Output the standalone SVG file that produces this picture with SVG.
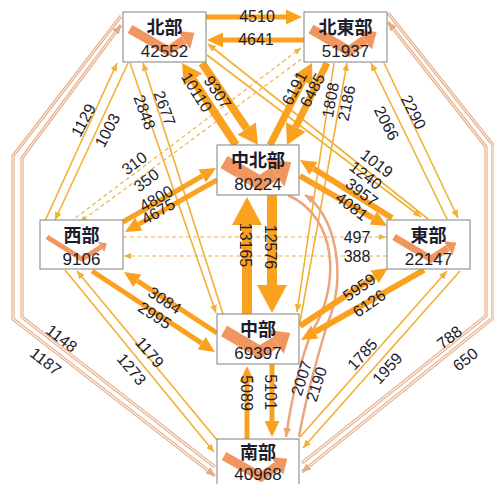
<svg xmlns="http://www.w3.org/2000/svg" width="494" height="484" viewBox="0 0 494 484">
<defs>
<style>
.t{stroke:#FAA21F;fill:none}
.g{stroke:#F2B134;stroke-width:1.6;fill:none;marker-end:url(#mG)}
.d{stroke:#E9B547;stroke-width:1.2;stroke-dasharray:4 3;fill:none;marker-end:url(#mD)}
.tan{stroke:#E5AA84;stroke-width:3.2;fill:none;stroke-linejoin:round}
.tanin{stroke:#FFF4EA;stroke-width:1.1;fill:none;stroke-linejoin:round}
.tanm{stroke:none;fill:none;marker-end:url(#mT)}
.cv{stroke:#EBA47C;stroke-width:2.5;fill:none;marker-end:url(#mR)}
.lb{font-family:"Liberation Sans",Arial,sans-serif;font-size:16px;fill:#1c1c2c;text-anchor:middle}
.box{fill:#fff;stroke:#808080;stroke-width:1}
.nm{font-family:"Noto Sans CJK JP","Noto Sans CJK SC",sans-serif;font-size:18px;font-weight:bold;fill:#1c1c2c;text-anchor:middle}
.nv{font-family:"Liberation Sans",Arial,sans-serif;font-size:17px;fill:#1c1c2c;text-anchor:middle}
.ch{stroke:#EE8442;fill:none;stroke-linejoin:miter;marker-end:url(#mC)}
</style>
<marker id="mB" markerUnits="userSpaceOnUse" markerWidth="28" markerHeight="30" refX="0" refY="15" orient="auto" viewBox="0 0 28 30"><path d="M0,0L28,15L0,30z" fill="#FAA21F"/></marker>
<marker id="mM" markerUnits="userSpaceOnUse" markerWidth="20" markerHeight="22" refX="0" refY="11" orient="auto" viewBox="0 0 20 22"><path d="M0,0L20,11L0,22z" fill="#FAA21F"/></marker>
<marker id="mS" markerUnits="userSpaceOnUse" markerWidth="16" markerHeight="15" refX="0" refY="7.5" orient="auto" viewBox="0 0 16 15"><path d="M0,0L16,7.5L0,15z" fill="#FAA21F"/></marker>
<marker id="mG" markerUnits="userSpaceOnUse" markerWidth="8" markerHeight="7" refX="8" refY="3.5" orient="auto" viewBox="0 0 8 7"><path d="M0,0L8,3.5L0,7z" fill="#F2B134"/></marker>
<marker id="mT" markerUnits="userSpaceOnUse" markerWidth="9" markerHeight="8" refX="9" refY="4" orient="auto" viewBox="0 0 9 8"><path d="M0,0L9,4L0,8z" fill="#E5AA84"/></marker>
<marker id="mD" markerUnits="userSpaceOnUse" markerWidth="7" markerHeight="6" refX="7" refY="3" orient="auto" viewBox="0 0 7 6"><path d="M0,0L7,3L0,6z" fill="#E9B547"/></marker>
<marker id="mR" markerUnits="userSpaceOnUse" markerWidth="9" markerHeight="8" refX="9" refY="4" orient="auto" viewBox="0 0 9 8"><path d="M0,0L9,4L0,8z" fill="#EBA47C"/></marker>
<marker id="mC" markerUnits="strokeWidth" markerWidth="1.4" markerHeight="2.4" refX="0" refY="1.2" orient="auto" viewBox="0 0 1.4 2.4"><path d="M0,0L1.4,1.2L0,2.4z" fill="#EE8442"/></marker>
</defs>
<rect width="494" height="484" fill="#fff"/>
<g id="connectors">
<path class="tan" d="M121,16L13,156L13,319L215,476"/>
<path class="tanin" d="M121,16L13,156L13,319L215,476"/>
<path class="tanm" d="M121,16L13,156L13,319L215,476"/>
<path class="tan" d="M215,467L22,317L22,158L121,25"/>
<path class="tanin" d="M215,467L22,317L22,158L121,25"/>
<path class="tanm" d="M215,467L22,317L22,158L121,25"/>
<path class="tan" d="M388,13L493,145L493,318L302,472"/>
<path class="tanin" d="M388,13L493,145L493,318L302,472"/>
<path class="tanm" d="M388,13L493,145L493,318L302,472"/>
<path class="tan" d="M302,463L486,316L486,147L388,22"/>
<path class="tanin" d="M302,463L486,316L486,147L388,22"/>
<path class="tanm" d="M302,463L486,316L486,147L388,22"/>
<path class="d" d="M70,222L301,48"/>
<path class="d" d="M307,55L80,222"/>
<path class="d" d="M123,237L386,237"/>
<path class="d" d="M387,256L124,256"/>
<path class="g" d="M45,221L117,63"/>
<path class="g" d="M128,63L55,220"/>
<path class="g" d="M130,63L216,313"/>
<path class="g" d="M223,314L143,63"/>
<path class="g" d="M207,55L421,217"/>
<path class="g" d="M428,219L208,44"/>
<path class="g" d="M447,219L371,63"/>
<path class="g" d="M384,63L458,218"/>
<path class="g" d="M334,63L297,312"/>
<path class="g" d="M300,322L347,63"/>
<path class="g" d="M217,440L77,271"/>
<path class="g" d="M65,270L214,452"/>
<path class="g" d="M300,437L447,271"/>
<path class="g" d="M460,271L303,448"/>
<path class="cv" d="M288,195C338,218 340,285 313,330C303,350 292,395 286,437"/>
<path class="cv" d="M299,437C306,395 318,355 327,325C348,275 335,214 305,195"/>
<path class="t" stroke-width="5" marker-end="url(#mS)" d="M206,17L286,17"/>
<path class="t" stroke-width="5" marker-end="url(#mS)" d="M304,40L223,40"/>
<path class="t" stroke-width="8" marker-end="url(#mM)" d="M236,145L193,79.7"/>
<path class="t" stroke-width="8" marker-end="url(#mM)" d="M202,63L246.7,128.5"/>
<path class="t" stroke-width="7" marker-end="url(#mM)" d="M270,145L302.9,80.8"/>
<path class="t" stroke-width="7" marker-end="url(#mM)" d="M327,63L295.8,127"/>
<path class="t" stroke-width="10" marker-end="url(#mB)" d="M247,314L247,225"/>
<path class="t" stroke-width="10" marker-end="url(#mB)" d="M272,195L272,285"/>
<path class="t" stroke-width="5" marker-end="url(#mS)" d="M123,222L202.2,176"/>
<path class="t" stroke-width="5" marker-end="url(#mS)" d="M217,180L138.9,224.1"/>
<path class="t" stroke-width="6" marker-end="url(#mS)" d="M392,218L313.5,168.5"/>
<path class="t" stroke-width="6" marker-end="url(#mS)" d="M300,176L373.1,218"/>
<path class="t" stroke-width="5" marker-end="url(#mS)" d="M217,333L137.4,280.8"/>
<path class="t" stroke-width="5" marker-end="url(#mS)" d="M92,271L201.6,343.2"/>
<path class="t" stroke-width="6" marker-end="url(#mS)" d="M300,326L374.6,276.8"/>
<path class="t" stroke-width="6" marker-end="url(#mS)" d="M424,270L314.9,332.1"/>
<path class="t" stroke-width="5" marker-end="url(#mS)" d="M247,439L247,382"/>
<path class="t" stroke-width="5" marker-end="url(#mS)" d="M272,364L272,421"/>
</g>
<g id="labels">
<text class="lb" transform="translate(257,16)" y="6">4510</text>
<text class="lb" transform="translate(256,39)" y="6">4641</text>
<text class="lb" transform="translate(197,92) rotate(58)" y="6">10110</text>
<text class="lb" transform="translate(218,92) rotate(56)" y="6">9307</text>
<text class="lb" transform="translate(294,88) rotate(-62)" y="6">6191</text>
<text class="lb" transform="translate(312,90) rotate(-62)" y="6">6485</text>
<text class="lb" transform="translate(330,100) rotate(-80)" y="6">1808</text>
<text class="lb" transform="translate(346,103) rotate(-78)" y="6">2186</text>
<text class="lb" transform="translate(387,123) rotate(63)" y="6">2066</text>
<text class="lb" transform="translate(414,112) rotate(63)" y="6">2290</text>
<text class="lb" transform="translate(83,120) rotate(-62)" y="6">1129</text>
<text class="lb" transform="translate(107,130) rotate(-62)" y="6">1003</text>
<text class="lb" transform="translate(145,112) rotate(70)" y="6">2848</text>
<text class="lb" transform="translate(165,108) rotate(70)" y="6">2677</text>
<text class="lb" transform="translate(134,163) rotate(-37)" y="6">310</text>
<text class="lb" transform="translate(146,180) rotate(-37)" y="6">350</text>
<text class="lb" transform="translate(156,198) rotate(-30)" y="6">4800</text>
<text class="lb" transform="translate(158,211) rotate(-30)" y="6">4675</text>
<text class="lb" transform="translate(357,237)" y="6">497</text>
<text class="lb" transform="translate(357,256)" y="6">388</text>
<text class="lb" transform="translate(165,300) rotate(33)" y="6">3084</text>
<text class="lb" transform="translate(155,315) rotate(33)" y="6">2995</text>
<text class="lb" transform="translate(246,245) rotate(90)" y="6">13165</text>
<text class="lb" transform="translate(271,247) rotate(90)" y="6">12576</text>
<text class="lb" transform="translate(377,163) rotate(37)" y="6">1019</text>
<text class="lb" transform="translate(366,175) rotate(37)" y="6">1240</text>
<text class="lb" transform="translate(362,192) rotate(37)" y="6">3957</text>
<text class="lb" transform="translate(352,206) rotate(37)" y="6">4081</text>
<text class="lb" transform="translate(359,287) rotate(-35)" y="6">5959</text>
<text class="lb" transform="translate(369,303) rotate(-35)" y="6">6126</text>
<text class="lb" transform="translate(62,338) rotate(38)" y="6">1148</text>
<text class="lb" transform="translate(46,361) rotate(38)" y="6">1187</text>
<text class="lb" transform="translate(150,352) rotate(50)" y="6">1179</text>
<text class="lb" transform="translate(132,369) rotate(50)" y="6">1273</text>
<text class="lb" transform="translate(247,393) rotate(90)" y="6">5089</text>
<text class="lb" transform="translate(271,392) rotate(90)" y="6">5101</text>
<text class="lb" transform="translate(301,378) rotate(-72)" y="6">2007</text>
<text class="lb" transform="translate(316,384) rotate(-72)" y="6">2190</text>
<text class="lb" transform="translate(362,354) rotate(-48)" y="6">1785</text>
<text class="lb" transform="translate(387,368) rotate(-48)" y="6">1959</text>
<text class="lb" transform="translate(449,337) rotate(-38)" y="6">788</text>
<text class="lb" transform="translate(465,359) rotate(-38)" y="6">650</text>
</g>
<g id="n-hokubu" transform="translate(123,12)"><rect class="box" width="83" height="50"/><path class="ch" opacity="0.85" stroke-width="9" d="M7,17L45,39L61,28"/><text class="nm" x="41.5" y="22">北部</text><text class="nv" x="41.5" y="45">42552</text></g>
<g id="n-hokutobu" transform="translate(304,12)"><rect class="box" width="83" height="50"/><path class="ch" opacity="0.85" stroke-width="10" d="M7,17L45,39L61,28"/><text class="nm" x="41.5" y="22">北東部</text><text class="nv" x="41.5" y="45">51937</text></g>
<g id="n-chuhokubu" transform="translate(217,145)"><rect class="box" width="82" height="50"/><path class="ch" opacity="0.85" stroke-width="14" d="M7,17L43,38L58,28"/><text class="nm" x="41" y="22">中北部</text><text class="nv" x="41" y="45">80224</text></g>
<g id="n-seibu" transform="translate(40,220)"><rect class="box" width="83" height="49"/><path class="ch" opacity="0.85" stroke-width="5" d="M7,17L42,39L61,27"/><text class="nm" x="41.5" y="22">西部</text><text class="nv" x="41.5" y="45">9106</text></g>
<g id="n-tobu" transform="translate(387,220)"><rect class="box" width="83" height="49"/><path class="ch" opacity="0.85" stroke-width="7" d="M7,17L44,39L61,28"/><text class="nm" x="41.5" y="22">東部</text><text class="nv" x="41.5" y="45">22147</text></g>
<g id="n-chubu" transform="translate(217,314)"><rect class="box" width="82" height="50"/><path class="ch" opacity="0.85" stroke-width="12" d="M7,17L43,38L59,28"/><text class="nm" x="41" y="22">中部</text><text class="nv" x="41" y="45">69397</text></g>
<g id="n-nanbu" transform="translate(217,439)"><rect class="box" width="82" height="50"/><path class="ch" opacity="0.85" stroke-width="9" d="M7,17L44,38L60,27"/><text class="nm" x="41" y="20">南部</text><text class="nv" x="41" y="41">40968</text></g>
</svg>
